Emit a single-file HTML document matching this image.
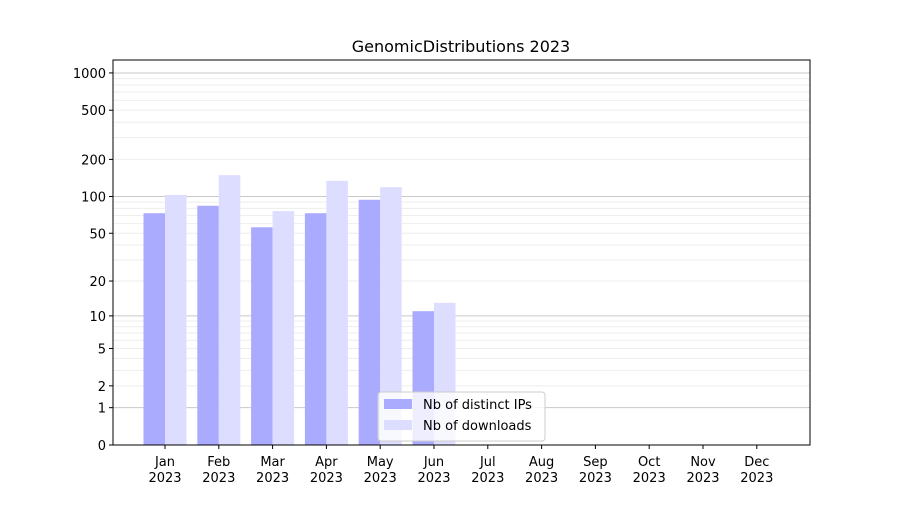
<!DOCTYPE html>
<html><head><meta charset="utf-8"><style>
body{margin:0;background:#fff;}
svg text{font-family:"DejaVu Sans","Liberation Sans",sans-serif;fill:#000;}
</style></head><body>
<svg id="chart" width="900" height="500" viewBox="0 0 900 500">
<rect x="0" y="0" width="900" height="500" fill="#fff"/>
<g id="grid"></g><g id="bars"></g><g id="axes"></g>
<text x="461" y="52" font-size="16" text-anchor="middle">GenomicDistributions 2023</text>
<g>
<rect x="378" y="392" width="167" height="49" rx="3" fill="#fff" fill-opacity="0.8" stroke="#ccc"/>
<rect x="384" y="399" width="28" height="10" fill="#aaaaff"/>
<text x="423" y="409" font-size="13">Nb of distinct IPs</text>
<rect x="384" y="420" width="28" height="10" fill="#ddddff"/>
<text x="423" y="430" font-size="13">Nb of downloads</text>
</g>
</svg>
<script>
const months=["Jan","Feb","Mar","Apr","May","Jun","Jul","Aug","Sep","Oct","Nov","Dec"];
const ipsValues=[73,84,56,73,94,11,0,0,0,0,0,0];
const downloadValues=[103,149,76,134,119,13,0,0,0,0,0,0];
const yTicks=[0,1,2,5,10,20,50,100,200,500,1000];
const NS="http://www.w3.org/2000/svg";
const L=113,R=810,T=60,B=445;
function y(v){return B-124*Math.log10(v+1);}
function x(i){return 165+i*53.8;}
function mk(tag,attrs,parent){const e=document.createElementNS(NS,tag);for(const k in attrs)e.setAttribute(k,attrs[k]);document.getElementById(parent).appendChild(e);return e;}
// grid
for(let d=1;d<=1000;d*=10){for(let m=1;m<10;m++){const v=d*m;if(y(v)<T)continue;
const g=mk("line",{x1:L,x2:R,y1:y(v),y2:y(v),stroke:m===1?"#c8c8c8":"#eeeeee","stroke-width":1},"grid");

}}
const bw=21.5;
months.forEach((mo,i)=>{
 const a=mk("rect",{x:x(i)-bw,y:y(ipsValues[i]),width:bw,height:B-y(ipsValues[i]),fill:"#aaaaff"},"bars");
 
 
 const b=mk("rect",{x:x(i),y:y(downloadValues[i]),width:bw,height:B-y(downloadValues[i]),fill:"#ddddff"},"bars");
 
 
 mk("line",{x1:x(i),x2:x(i),y1:B,y2:B+4,stroke:"#000"},"axes");
 const t=mk("text",{x:x(i),y:B+21,"font-size":13,"text-anchor":"middle"},"axes");
 t.textContent=mo;
 
 
 const t2=mk("text",{x:x(i),y:B+37,"font-size":13,"text-anchor":"middle"},"axes");
 t2.textContent="2023";
 
 
});
yTicks.forEach(v=>{
 mk("line",{x1:L-4,x2:L,y1:y(v),y2:y(v),stroke:"#000"},"axes");
 const t=mk("text",{x:L-7,y:y(v)+5,"font-size":13,"text-anchor":"end"},"axes");
 t.textContent=v;
 
 
});
const f=mk("rect",{x:L,y:T,width:R-L,height:B-T,fill:"none",stroke:"#000","stroke-width":1},"axes");


</script>
</body></html>
